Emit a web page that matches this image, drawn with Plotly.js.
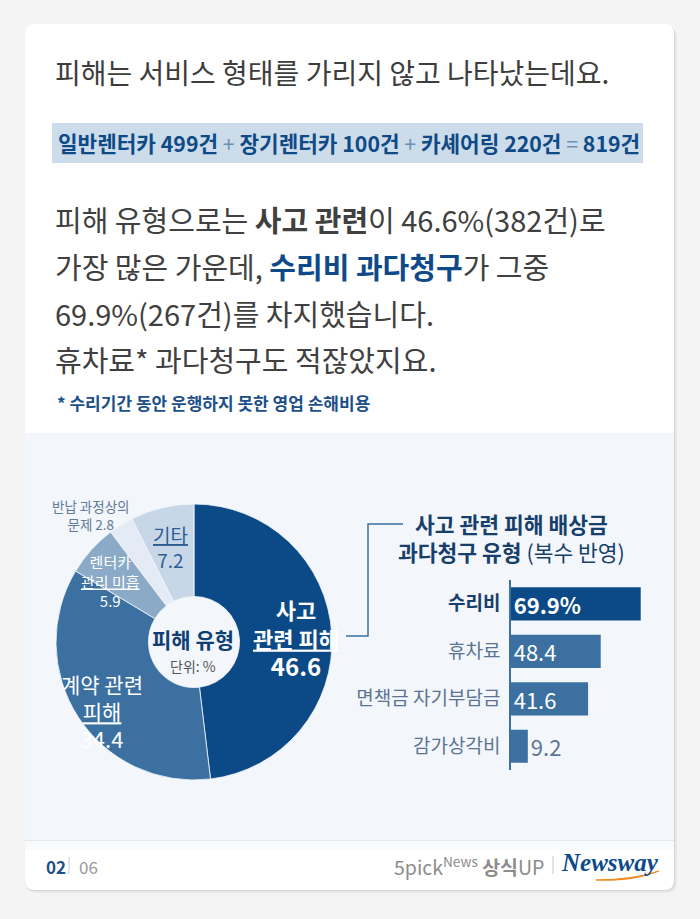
<!DOCTYPE html>
<html>
<head>
<meta charset="utf-8">
<script src="https://cdn.plot.ly/plotly-3.0.1.min.js"></script>
<style>
html,body{margin:0;padding:0;background:#f4f4f4;}
#chart{width:700px;height:919px;}
</style>
</head>
<body>
<div id="chart"></div>
<script>
// ---- data ----
const serviceNames = ['일반렌터카', '장기렌터카', '카셰어링'];
const serviceCounts = [499, 100, 220];
const serviceTotal = 819;

const pieLabels = ['사고 관련 피해', '계약 관련 피해', '렌터카 관리 미흡', '반납 과정상의 문제', '기타'];
const pieValues = [46.6, 34.4, 5.9, 2.8, 7.2];

const barCategories = ['수리비', '휴차료', '면책금 자기부담금', '감가상각비'];
const barValues = [69.9, 48.4, 41.6, 9.2];

// ---- helpers ----
const W = 700, H = 919;
const FONT = '"Noto Sans CJK KR", "Noto Sans", sans-serif';
const X = p => p / W;
const Y = p => 1 - p / H;
function ann(text, x, y, size, color, o) {
  o = o || {};
  return Object.assign({
    text: text, x: X(x), y: Y(y), xref: 'paper', yref: 'paper',
    xanchor: 'left', yanchor: 'middle', showarrow: false,
    font: {family: o.family || FONT, size: size, color: color, weight: o.weight || 'normal', style: o.style || 'normal'}
  }, o.extra || {});
}
function roundRect(x0, y0, x1, y1, r) {
  const f = (a, b) => X(a).toFixed(5) + ',' + Y(b).toFixed(5);
  return 'M' + f(x0 + r, y0) + ' L' + f(x1 - r, y0) + ' Q' + f(x1, y0) + ' ' + f(x1, y0 + r) +
    ' L' + f(x1, y1 - r) + ' Q' + f(x1, y1) + ' ' + f(x1 - r, y1) +
    ' L' + f(x0 + r, y1) + ' Q' + f(x0, y1) + ' ' + f(x0, y1 - r) +
    ' L' + f(x0, y0 + r) + ' Q' + f(x0, y0) + ' ' + f(x0 + r, y0) + ' Z';
}
function rect(x0, y0, x1, y1, fill, extra) {
  return Object.assign({type: 'rect', xref: 'paper', yref: 'paper', x0: X(x0), x1: X(x1), y0: Y(y0), y1: Y(y1),
    fillcolor: fill, line: {width: 0}, layer: 'below'}, extra || {});
}
function line(x0, y0, x1, y1, color, width) {
  return {type: 'line', xref: 'paper', yref: 'paper', x0: X(x0), x1: X(x1), y0: Y(y0), y1: Y(y1),
    line: {color: color, width: width}, layer: 'above'};
}

// ---- colors ----
const NAVY = '#0b4a87';
const MID = '#3b70a1';
const pieColors = [NAVY, MID, '#8aaac8', '#e4ebf4', '#c8d7e7'];
const barColors = barValues.map((v, i) => i === 0 ? NAVY : MID);

// ---- traces ----
const pie = {
  type: 'pie', values: pieValues, labels: pieLabels, sort: false, direction: 'clockwise', rotation: 0,
  hole: 0.33, textinfo: 'none', hoverinfo: 'none', showlegend: false,
  marker: {colors: pieColors, line: {color: '#f3f6fa', width: 0.8}},
  domain: {x: [X(56), X(332)], y: [Y(780), Y(504)]}
};

const bar = {
  type: 'bar', orientation: 'h', x: barValues, y: barCategories,
  marker: {color: barColors}, width: 0.7,
  text: barValues.map((v, i) => i === 0 ? '<b>' + v.toFixed(1) + '%</b>' : v.toFixed(1)),
  textposition: barValues.map(v => v > 20 ? 'inside' : 'outside'),
  insidetextanchor: 'start', constraintext: 'none', cliponaxis: false,
  textfont: {family: FONT, size: 22},
  insidetextfont: {family: FONT, size: 22, color: '#ffffff'},
  outsidetextfont: {family: FONT, size: 22, color: '#5a7593'},
  hoverinfo: 'none', xaxis: 'x', yaxis: 'y'
};

// ---- shapes ----
const shapes = [
  {type: 'path', xref: 'paper', yref: 'paper', path: roundRect(26, 27, 677, 893, 11), fillcolor: 'rgba(0,0,0,0.05)', line: {width: 0}, layer: 'below'},
  {type: 'path', xref: 'paper', yref: 'paper', path: roundRect(25, 25, 675, 891, 10), fillcolor: 'rgba(0,0,0,0.07)', line: {width: 0}, layer: 'below'},
  {type: 'path', xref: 'paper', yref: 'paper', path: roundRect(25, 24, 674, 890, 10), fillcolor: '#ffffff', line: {width: 0}, layer: 'below'},
  rect(25, 433, 674, 840, '#f3f6fa'),
  rect(25, 840, 674, 850, '#f9fafb'),
  line(25, 840.5, 674, 840.5, '#e4e8ed', 1),
  rect(52, 123, 643, 163, '#cddcea'),
  // connector line
  {type: 'path', xref: 'paper', yref: 'paper',
   path: 'M' + X(346) + ',' + Y(636) + ' L' + X(368) + ',' + Y(636) + ' L' + X(368) + ',' + Y(524) + ' L' + X(403) + ',' + Y(524),
   line: {color: MID, width: 1.5}, layer: 'above'},
  // footer separators
  line(69, 857, 69, 874, '#c9c9c9', 1),
  line(553, 856, 553, 874, '#c9c9c9', 1),
  // swoosh under Newsway
  {type: 'path', xref: 'paper', yref: 'paper',
   path: 'M' + X(596) + ',' + Y(880) + ' Q' + X(632) + ',' + Y(882) + ' ' + X(659) + ',' + Y(871) +
         ' Q' + X(634) + ',' + Y(879.5) + ' ' + X(596) + ',' + Y(880) + ' Z',
   fillcolor: '#f0891d', line: {color: '#f0891d', width: 1}, layer: 'above'}
];

// ---- annotations ----
const sep = s => '<span style="color:#6a8fb5;font-weight:normal"> ' + s + ' </span>';
const badgeText = serviceNames.map((n, i) => n + ' ' + serviceCounts[i] + '건').join(sep('+')) +
  sep('=') + serviceTotal + '건';

const u = s => '<span style="text-decoration:underline">' + s + '</span>';
const C = {xanchor: 'center', align: 'center'};

const annotations = [
  ann('피해는 서비스 형태를 가리지 않고 나타났는데요.', 53, 72, 28, '#3d3d3d'),
  ann(badgeText, 56, 143, 21.3, '#0e4a86', {weight: 'bold'}),
  ann('피해 유형으로는 <b>사고 관련</b>이 46.6%(382건)로', 53, 219, 29, '#404040'),
  ann('가장 많은 가운데, <b><span style="color:#0e4a8a">수리비 과다청구</span></b>가 그중', 53, 266, 29, '#404040'),
  ann('69.9%(267건)를 차지했습니다.', 53, 313, 29, '#404040'),
  ann('휴차료* 과다청구도 적잖았지요.', 53, 359, 29, '#404040'),
  ann('* 수리기간 동안 운행하지 못한 영업 손해비용', 55, 402, 17, '#1d4f8a', {weight: 'bold'}),

  // donut labels
  ann('<b>사고<br>' + u('관련 피해') + '<br><span style="font-size:24px">' + pieValues[0].toFixed(1) + '</span></b>',
      296, 638, 22, '#ffffff', {extra: C}),
  ann('계약 관련<br>' + u('피해') + '<br><span style="font-size:22px">' + pieValues[1].toFixed(1) + '</span>',
      102, 711, 21, '#ffffff', {extra: C}),
  ann('렌터카<br>' + u('관리 미흡') + '<br>' + pieValues[2].toFixed(1), 111, 581, 15, '#ffffff', {extra: C}),
  ann('반납 과정상의<br>문제 ' + pieValues[3].toFixed(1), 91, 515, 13.5, '#5f7b98', {extra: C}),
  ann(u('기타') + '<br>' + pieValues[4].toFixed(1), 170, 546.5, 19, '#2c5e93', {extra: C}),
  ann('<b>피해 유형</b>', 193, 639, 21, '#0f3f72', {extra: C}),
  ann('단위: %', 193, 666, 14, '#555555', {extra: C}),

  // bar title
  ann('<b>사고 관련 피해 배상금</b><br><b>과다청구 유형</b> (복수 반영)', 511, 537, 21.5, '#173f6b', {extra: C}),

  // footer
  ann('02', 44, 866, 17, '#1d4f8a', {weight: 'bold'}),
  ann('06', 77, 866, 17, '#9a9a9a'),
  ann('5pick<sup>News</sup> <b>상식</b>UP', 392, 866, 19.5, '#8c8c8c'),
  ann('Newsway', 559, 862, 25, '#0d4a8c', {family: '"Liberation Serif", serif', weight: 'bold', style: 'italic'})
];

const layout = {
  width: W, height: H,
  margin: {l: 0, r: 0, t: 0, b: 0},
  paper_bgcolor: '#f4f4f4', plot_bgcolor: 'rgba(0,0,0,0)',
  showlegend: false,
  bargap: 0.3,
  xaxis: {domain: [X(510.7), X(650.2)], range: [0, 75], showgrid: false, zeroline: false,
          showticklabels: false, showline: false, fixedrange: true},
  yaxis: {domain: [Y(770), Y(580)], autorange: 'reversed', showgrid: false, zeroline: false,
          showline: true, linecolor: MID, linewidth: 1.5, ticks: '',
          tickvals: barCategories,
          ticktext: barCategories.map((c, i) => i === 0 ? '<b><span style="color:#173f6b">' + c + '</span></b>' : c),
          tickfont: {family: FONT, size: 19, color: '#5a7593'},
          ticklabelstandoff: 5, fixedrange: true},
  shapes: shapes,
  annotations: annotations
};

Plotly.newPlot('chart', [pie, bar], layout, {displayModeBar: false, staticPlot: true});
</script>
</body>
</html>
